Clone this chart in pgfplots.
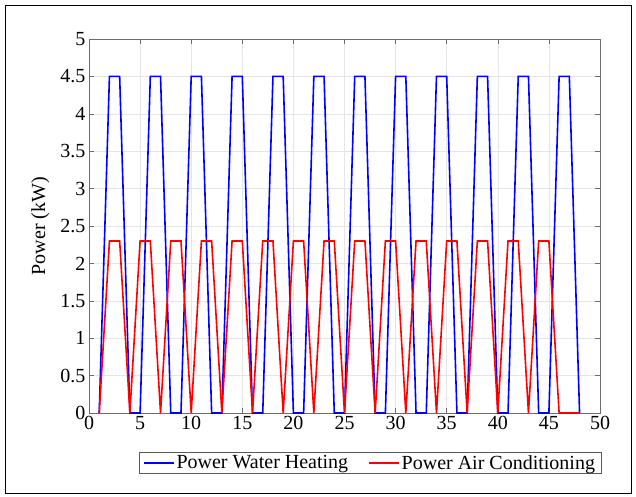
\documentclass[border=0pt]{standalone}
\usepackage{pgfplots}
\pgfplotsset{compat=1.18}
\usepackage{fontspec}
\setmainfont{Liberation Serif}
\begin{document}
\begin{tikzpicture}
\path[use as bounding box] (0,0) rectangle (636pt,-497pt);
\draw[black, line width=0.8pt] (5pt,-5pt) rectangle (631pt,-493pt);
\begin{axis}[
  at={(89pt,-413pt)}, anchor=south west,
  width=511pt, height=374pt, scale only axis,
  xmin=0, xmax=50, ymin=0, ymax=5,
  xtick={0,5,...,50}, ytick={0,0.5,...,5},
  yticklabels={0,0.5,1,1.5,2,2.5,3,3.5,4,4.5,5},
  tick align=inside, tick pos=both,
  major tick length=5pt,
  grid=major,
  grid style={gray!20, line width=0.6pt},
  axis line style={gray!85!black, line width=0.8pt},
  every tick/.style={gray!85!black, line width=0.6pt},
  /pgf/number format/assume math mode=true,
  font=\fontsize{20}{24}\selectfont,
  ylabel={Power (kW)},
  ylabel style={at={(rel axis cs:0,0.5)}, anchor=south, yshift=36pt},
  clip=false,
  legend columns=2,
  legend style={at={(0.55,-0.104)}, anchor=north, draw=gray!70!black, line width=0.8pt,
    font=\fontsize{20}{24}\selectfont, inner xsep=4pt, inner ysep=1pt,
    /tikz/every even column/.append style={column sep=18pt}},
  legend image code/.code={\draw[#1] (0cm,0cm) -- (1.05cm,0cm);},
]
\addplot[color={rgb,255:red,0;green,0;blue,255}, line width=1.6pt] coordinates {
(1,0)(2,4.5)(3,4.5)(4,0)(5,0)(6,4.5)(7,4.5)(8,0)(9,0)(10,4.5)(11,4.5)(12,0)(13,0)(14,4.5)(15,4.5)(16,0)(17,0)(18,4.5)(19,4.5)(20,0)(21,0)(22,4.5)(23,4.5)(24,0)(25,0)(26,4.5)(27,4.5)(28,0)(29,0)(30,4.5)(31,4.5)(32,0)(33,0)(34,4.5)(35,4.5)(36,0)(37,0)(38,4.5)(39,4.5)(40,0)(41,0)(42,4.5)(43,4.5)(44,0)(45,0)(46,4.5)(47,4.5)(48,0)
};
\addlegendentry{Power Water Heating}
\addplot[color={rgb,255:red,255;green,0;blue,0}, line width=1.6pt] coordinates {
(1,0)(2,2.3)(3,2.3)(4,0)(5,2.3)(6,2.3)(7,0)(8,2.3)(9,2.3)(10,0)(11,2.3)(12,2.3)(13,0)(14,2.3)(15,2.3)(16,0)(17,2.3)(18,2.3)(19,0)(20,2.3)(21,2.3)(22,0)(23,2.3)(24,2.3)(25,0)(26,2.3)(27,2.3)(28,0)(29,2.3)(30,2.3)(31,0)(32,2.3)(33,2.3)(34,0)(35,2.3)(36,2.3)(37,0)(38,2.3)(39,2.3)(40,0)(41,2.3)(42,2.3)(43,0)(44,2.3)(45,2.3)(46,0)(47,0)(48,0)
};
\addlegendentry{Power Air Conditioning}
\end{axis}
\end{tikzpicture}
\end{document}
